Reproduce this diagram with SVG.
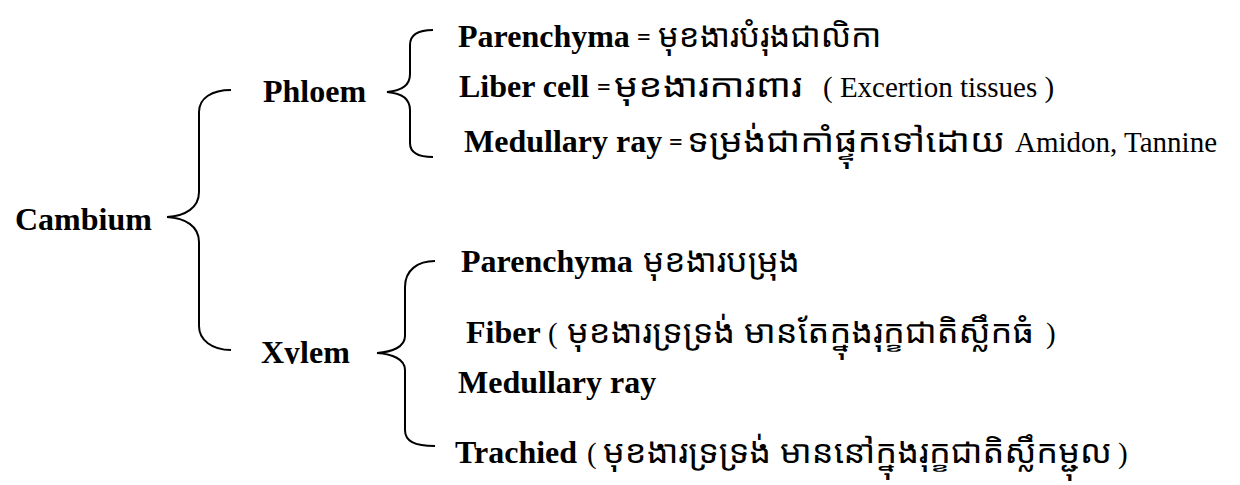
<svg xmlns="http://www.w3.org/2000/svg" width="1240" height="485" viewBox="0 0 1240 485">
  <style>
    .b { font-family: "Liberation Serif", "Times New Roman", serif; font-weight: bold; font-size: 32px; fill: #000; }
    .r { font-family: "Liberation Serif", "Times New Roman", serif; font-size: 29px; fill: #000; }
    .eq { font-family: "Liberation Serif", "Times New Roman", serif; font-weight: bold; font-size: 24px; fill: #000; }
    .k { font-family: "Khmer OS", "Noto Sans Khmer", "Noto Serif Khmer", "Liberation Serif", serif; font-size: 32px; fill: #000; }
    .brace { fill: none; stroke: #000; stroke-width: 2; }
  </style>
  <defs>
    <clipPath id="xylem-clip">
      <rect x="250" y="330" width="120" height="34"/>
    </clipPath>
  </defs>
  <rect width="1240" height="485" fill="#fff"/>

  <!-- curly braces linking each level -->
  <g id="connectors">
    <path class="brace" d="M231,90 C212,90 199,98 199,112 L199,192 C199,208 185,216 167,217 C185,218 199,226 199,242 L199,326 C199,340 212,350 231,350"/>
    <path class="brace" d="M433,30 C418,30 410,35 410,45 L410,74 C410,86 400,91 387,92 C400,93 410,98 410,110 L410,143 C410,153 418,157 433,157"/>
    <path class="brace" d="M435,261 C418,261 405,270 405,287 L405,336 C405,347 392,352 377,353 C392,354 405,359 405,370 L405,430 C405,441 414,446 435,446"/>
  </g>

  <g id="cambium"><text class="b" x="15" y="230">Cambium</text></g>
  <g id="phloem"><text class="b" x="263" y="102">Phloem</text></g>
  <g id="xylem"><text class="b" x="261" y="363" clip-path="url(#xylem-clip)">Xylem</text></g>

  <g id="phloem-parenchyma">
    <text class="b" x="458" y="47">Parenchyma</text>
    <text class="eq" x="637" y="45">=</text>
    <text class="k" transform="translate(658,47) scale(1.025,1)">មុខងារបំរុងជាលិកា</text>
  </g>
  <g id="liber-cell">
    <text class="b" x="459" y="97">Liber cell</text>
    <text class="eq" x="597" y="95">=</text>
    <text class="k" transform="translate(614,97) scale(1.2,1)">មុខងារការពារ</text>
    <text class="r" x="823" y="97">( Excertion tissues )</text>
  </g>
  <g id="phloem-medullary-ray">
    <text class="b" x="464" y="152">Medullary ray</text>
    <text class="eq" x="669" y="150">=</text>
    <text class="k" transform="translate(687,152) scale(1.15,1)">ទម្រង់ជាកាំផ្ទុកទៅដោយ</text>
    <text class="r" x="1015" y="152" font-size="28">Amidon, Tannine</text>
  </g>

  <g id="xylem-parenchyma">
    <text class="b" x="461" y="272">Parenchyma</text>
    <text class="k" transform="translate(643,272) scale(1.05,1)">មុខងារបម្រុង</text>
  </g>
  <g id="fiber">
    <text class="b" x="466" y="343">Fiber</text>
    <text class="r" x="548" y="343">(</text>
    <text class="k" transform="translate(567,343) scale(1.075,1)">មុខងារទ្រទ្រង់ មានតែក្នុងរុក្ខជាតិស្លឹកធំ</text>
    <text class="r" x="1046" y="343">)</text>
  </g>
  <g id="xylem-medullary-ray">
    <text class="b" x="458" y="393">Medullary ray</text>
  </g>
  <g id="trachied">
    <text class="b" x="455" y="463">Trachied</text>
    <text class="r" x="587" y="463">(</text>
    <text class="k" transform="translate(603,463) scale(1.075,1)">មុខងារទ្រទ្រង់ មាននៅក្នុងរុក្ខជាតិស្លឹកម្ជុល</text>
    <text class="r" x="1118" y="463">)</text>
  </g>
</svg>
